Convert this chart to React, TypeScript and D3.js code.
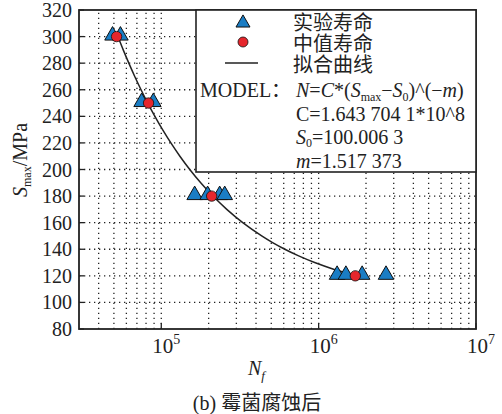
import React, { useEffect, useRef } from 'react';
import * as d3 from 'd3';

// stress levels (MPa) and the lives
const stressLevels = [300, 250, 180, 120];
const testLives = [
  [49000, 55000],
  [75000, 89000],
  [163000, 197000, 235000, 253000],
  [1310000, 1490000, 1890000, 2680000],
];
const medianLives = [52000, 83000, 209000, 1710000];

// fitted model N = C*(S-S0)^(-m), constants as printed in the legend
const modelC = 1.6437041e8;
const modelS0 = 100.0063;
const modelM = 1.517373;
const curveStress = [300, 290, 280, 270, 260, 250, 240, 230, 220, 210, 200, 190, 180, 170, 160, 150, 145, 140, 135, 130, 125, 120];

const yTicks = [80, 100, 120, 140, 160, 180, 200, 220, 240, 260, 280, 300, 320];
const xTicks = [1e5, 1e6, 1e7];
const xTickExp = ['5', '6', '7'];

const SERIF = '"Liberation Serif", "Noto Sans CJK SC", serif';
const BLUE = '#1a7dc4';
const RED = '#e5262c';

const App = () => {
  const svgRef = useRef<SVGSVGElement>(null);

  useEffect(() => {
    const width = 502;
    const height = 414;
    const left = 79, right = 476, top = 10, bottom = 329;

    const svg = d3.select(svgRef.current)
      .attr('width', width)
      .attr('height', height);
    svg.selectAll('*').remove();

    svg.append('rect').attr('width', width).attr('height', height).attr('fill', '#ffffff');

    const x = d3.scaleLog().domain([3e4, 1e7]).range([left, right]);
    const y = d3.scaleLinear().domain([80, 320]).range([bottom, top]);

    // dotted grid
    const grid = svg.append('g')
      .attr('stroke', '#222')
      .attr('stroke-width', 1.3)
      .attr('stroke-dasharray', '1.3 3.7');
    grid.selectAll('.vg')
      .data(x.ticks().filter(v => v > 3e4 && v < 1e7))
      .join('line')
      .attr('x1', d => x(d)).attr('x2', d => x(d))
      .attr('y1', bottom).attr('y2', top);
    grid.selectAll('.hg')
      .data(yTicks.filter(v => v > 80 && v < 320))
      .join('line')
      .attr('x1', left).attr('x2', right)
      .attr('y1', d => y(d)).attr('y2', d => y(d));

    // frame
    svg.append('rect')
      .attr('x', left).attr('y', top)
      .attr('width', right - left).attr('height', bottom - top)
      .attr('fill', 'none').attr('stroke', '#222').attr('stroke-width', 1.8);

    // inward ticks
    svg.selectAll('.yt')
      .data(yTicks)
      .join('line')
      .attr('x1', left).attr('x2', left + 5)
      .attr('y1', d => y(d)).attr('y2', d => y(d))
      .attr('stroke', '#222').attr('stroke-width', 1.3);
    svg.selectAll('.xt')
      .data(xTicks)
      .join('line')
      .attr('x1', d => x(d)).attr('x2', d => x(d))
      .attr('y1', bottom).attr('y2', bottom - 6)
      .attr('stroke', '#222').attr('stroke-width', 1.3);

    // tick labels
    svg.selectAll('.yl')
      .data(yTicks)
      .join('text')
      .attr('x', left - 7)
      .attr('y', d => y(d) + 7)
      .attr('text-anchor', 'end')
      .style('font-family', SERIF)
      .style('font-size', '20px')
      .attr('fill', '#222')
      .text(d => d);

    const xl = svg.selectAll('.xl')
      .data(xTicks)
      .join('text')
      .attr('x', d => x(d) - 9)
      .attr('y', 353)
      .style('font-family', SERIF)
      .style('font-size', '21px')
      .attr('fill', '#222');
    xl.append('tspan').text('10');
    xl.append('tspan').attr('dy', -9).style('font-size', '14px').text((d, i) => xTickExp[i]);

    // axis titles
    const yt = svg.append('text')
      .attr('transform', `translate(27, 160) rotate(-90)`)
      .attr('text-anchor', 'middle')
      .style('font-family', SERIF)
      .style('font-size', '20px')
      .attr('fill', '#222');
    yt.append('tspan').style('font-style', 'italic').text('S');
    yt.append('tspan').attr('dy', 4).style('font-size', '12px').text('max');
    yt.append('tspan').attr('dy', -4).text('/MPa');

    const xt = svg.append('text')
      .attr('x', 248).attr('y', 375)
      .style('font-family', SERIF)
      .style('font-size', '20px')
      .style('font-style', 'italic')
      .attr('fill', '#222');
    xt.append('tspan').text('N');
    xt.append('tspan').attr('dy', 5).style('font-size', '13px').text('f');

    svg.append('text')
      .attr('x', 257).attr('y', 410)
      .attr('text-anchor', 'middle')
      .style('font-family', SERIF)
      .style('font-size', '20px')
      .attr('fill', '#222')
      .text('(b) 霉菌腐蚀后');

    // legend box
    const lg = svg.append('g');
    lg.append('rect')
      .attr('x', 196).attr('y', top)
      .attr('width', right - 196).attr('height', 162)
      .attr('fill', '#ffffff').attr('stroke', '#222').attr('stroke-width', 1.6);

    const tri = d3.symbol().type(d3.symbolTriangle).size(85);
    lg.append('path').attr('d', tri()).attr('transform', 'translate(243,23)')
      .attr('fill', BLUE).attr('stroke', '#111').attr('stroke-width', 1);
    lg.append('circle').attr('cx', 243).attr('cy', 42).attr('r', 5)
      .attr('fill', RED).attr('stroke', '#111').attr('stroke-width', 0.8);
    lg.append('line').attr('x1', 225).attr('x2', 258).attr('y1', 63).attr('y2', 63)
      .attr('stroke', '#222').attr('stroke-width', 1.5);

    const legText = ['实验寿命', '中值寿命', '拟合曲线'];
    lg.selectAll('.lt')
      .data(legText)
      .join('text')
      .attr('x', 293)
      .attr('y', (d, i) => 30 + i * 21)
      .style('font-family', SERIF)
      .style('font-size', '20px')
      .attr('fill', '#222')
      .text(d => d);

    const txt = (xp: number, yp: number) => lg.append('text')
      .attr('x', xp).attr('y', yp)
      .style('font-family', SERIF)
      .style('font-size', '20px')
      .attr('fill', '#222');

    txt(200, 97).text('MODEL：');
    const f = txt(296, 97);
    f.append('tspan').style('font-style', 'italic').text('N');
    f.append('tspan').text('=');
    f.append('tspan').style('font-style', 'italic').text('C');
    f.append('tspan').text('*(');
    f.append('tspan').style('font-style', 'italic').text('S');
    f.append('tspan').attr('dy', 4).style('font-size', '12px').text('max');
    f.append('tspan').attr('dy', -4).text('−');
    f.append('tspan').style('font-style', 'italic').text('S');
    f.append('tspan').attr('dy', 4).style('font-size', '12px').text('0');
    f.append('tspan').attr('dy', -4).text(')^(−');
    f.append('tspan').style('font-style', 'italic').text('m');
    f.append('tspan').text(')');

    txt(296, 121).text('C=1.643 704 1*10^8');
    const s0 = txt(296, 144);
    s0.append('tspan').style('font-style', 'italic').text('S');
    s0.append('tspan').attr('dy', 3).style('font-size', '12px').text('0');
    s0.append('tspan').attr('dy', -3).text('=100.006 3');
    const mm = txt(296, 168);
    mm.append('tspan').style('font-style', 'italic').text('m');
    mm.append('tspan').text('=1.517 373');

    // fitted curve
    const line = d3.line<number>()
      .x(s => x(modelC * Math.pow(s - modelS0, -modelM)))
      .y(s => y(s))
      .curve(d3.curveCatmullRom);
    svg.append('path')
      .attr('d', line(curveStress))
      .attr('fill', 'none')
      .attr('stroke', '#222')
      .attr('stroke-width', 1.5);

    // test points
    const pts = stressLevels.flatMap((s, i) => testLives[i].map(n => ({ s, n })));
    const triP = d3.symbol().type(d3.symbolTriangle).size(105);
    svg.selectAll('.tp')
      .data(pts)
      .join('path')
      .attr('d', triP())
      .attr('transform', d => `translate(${x(d.n)},${y(d.s) - 1})`)
      .attr('fill', BLUE)
      .attr('stroke', '#111')
      .attr('stroke-width', 1);

    svg.selectAll('.mp')
      .data(medianLives)
      .join('circle')
      .attr('cx', d => x(d))
      .attr('cy', (d, i) => y(stressLevels[i]))
      .attr('r', 5.2)
      .attr('fill', RED)
      .attr('stroke', '#111')
      .attr('stroke-width', 0.8);
  }, []);

  return <svg ref={svgRef} style={{ position: 'absolute', left: 0, top: 0 }}></svg>;
};

export default App;
